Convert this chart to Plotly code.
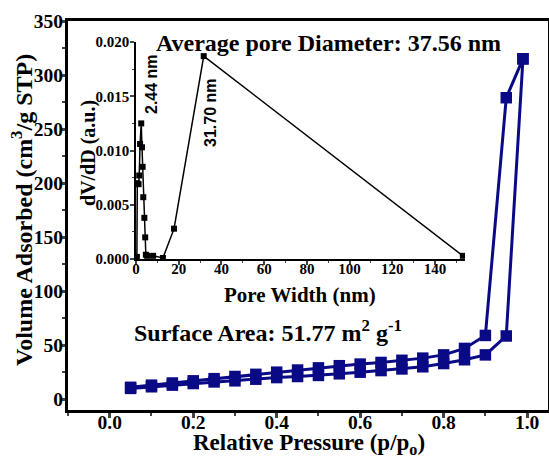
import plotly.graph_objects as go

# Main isotherm data
p_rel = [0.05, 0.10, 0.15, 0.20, 0.25, 0.30, 0.35, 0.40, 0.45, 0.50,
         0.55, 0.60, 0.65, 0.70, 0.75, 0.80, 0.85, 0.90, 0.95, 0.99]
adsorption = [10, 11.5, 13, 14.5, 16, 17, 18.5, 20, 21, 22,
              23.5, 25, 26.5, 28, 30, 33, 36.5, 41, 58.5, 315]
desorption = [11, 13, 15, 17, 19, 21, 23, 25, 27, 29,
              31, 32.5, 34, 36, 38, 41, 47, 59, 279, 315]

# Inset pore size distribution
pore_width = [0.4, 0.6, 1.2, 1.5, 1.9, 2.44, 2.8, 3.1, 3.4, 3.9, 4.3, 4.6, 5.2, 8.0, 12.6, 17.8, 31.7, 153.0]
dvdd = [0.0002, 0.0070, 0.0069, 0.0077, 0.0106, 0.0125, 0.0103, 0.0085, 0.0057, 0.0038,
        0.0020, 0.0004, 0.0003, 0.0003, 0.0001, 0.0028, 0.0187, 0.0003]

navy = "#0a0a86"
serif = "Liberation Serif"

fig = go.Figure()
fig.add_trace(go.Scatter(x=p_rel, y=adsorption, mode="lines+markers",
                         line=dict(color=navy, width=3),
                         marker=dict(symbol="square", size=11.5, color=navy),
                         showlegend=False))
fig.add_trace(go.Scatter(x=p_rel, y=desorption, mode="lines+markers",
                         line=dict(color=navy, width=3),
                         marker=dict(symbol="square", size=11.5, color=navy),
                         showlegend=False))
fig.add_trace(go.Scatter(x=pore_width, y=dvdd, mode="lines+markers",
                         xaxis="x2", yaxis="y2",
                         line=dict(color="black", width=1.5),
                         marker=dict(symbol="square", size=6, color="black"),
                         showlegend=False))

tickfont_main = dict(family=serif, size=19.5, color="black", weight="bold")
tickfont_in = dict(family=serif, size=15, color="black", weight="bold")

fig.update_layout(
    width=549, height=456,
    margin=dict(l=68, r=1, t=21, b=46, autoexpand=False),
    paper_bgcolor="white", plot_bgcolor="white",
    xaxis=dict(range=[-0.1, 1.05], tickvals=[0, 0.2, 0.4, 0.6, 0.8, 1.0],
               tickformat=".1f", ticks="outside", ticklen=5, tickwidth=2.5,
               ticklabelstandoff=-12,
               showline=True, linewidth=3, linecolor="black", mirror=True,
               showgrid=False, zeroline=False, tickfont=tickfont_main,
               minor=dict(dtick=0.1, ticks="outside", ticklen=3, tickwidth=2, tick0=0)),
    yaxis=dict(range=[-10, 350], tickvals=[0, 50, 100, 150, 200, 250, 300, 350],
               ticks="outside", ticklen=5, tickwidth=2.5,
               ticklabelstandoff=-7,
               showline=True, linewidth=3, linecolor="black", mirror=True,
               showgrid=False, zeroline=False, tickfont=tickfont_main,
               minor=dict(dtick=25, ticks="outside", ticklen=3, tickwidth=2, tick0=0)),
    xaxis2=dict(domain=[0.1417, 0.827], anchor="y2", range=[0, 154],
                tickvals=[0, 20, 40, 60, 80, 100, 120, 140],
                ticks="outside", ticklen=4, tickwidth=1.5,
                ticklabelstandoff=-9,
                showline=True, linewidth=1.5, linecolor="black",
                showgrid=False, zeroline=False, tickfont=tickfont_in,
                minor=dict(dtick=10, ticks="outside", ticklen=2.5, tickwidth=1)),
    yaxis2=dict(domain=[0.388, 0.946], anchor="x2", range=[0, 0.020],
                tickvals=[0, 0.005, 0.010, 0.015, 0.020], tickformat=".3f",
                ticks="outside", ticklen=4, tickwidth=1.5,
                ticklabelstandoff=-2,
                showline=True, linewidth=1.5, linecolor="black",
                showgrid=False, zeroline=False, tickfont=tickfont_in,
                minor=dict(dtick=0.0025, ticks="outside", ticklen=2.5, tickwidth=1)),
)


def px(xp):
    return (xp - 68) / 480


def py(yp):
    return (410 - yp) / 389


def note(text, x, y, font, angle=0):
    fig.add_annotation(text=text, xref="paper", yref="paper", x=px(x), y=py(y),
                       showarrow=False, font=font, textangle=angle,
                       xanchor="center", yanchor="middle")


title_font = dict(family=serif, size=23, color="black", weight="bold")
inset_title_font = dict(family=serif, size=21, color="black", weight="bold")
ann_font = dict(family=serif, size=24, color="black", weight="bold")
lab_font = dict(family="Liberation Sans", size=16, color="black", weight="bold")

note("Relative Pressure (p/p<sub>o</sub>)", 309, 444, title_font)
note("Volume Adsorbed (cm<sup>3</sup>/g STP)", 22, 210, dict(family=serif, size=24, color="black", weight="bold"), -90)
note("Pore Width (nm)", 300, 295, inset_title_font)
note("dV/dD (a.u.)", 88, 153, dict(family=serif, size=20, color="black", weight="bold"), -90)
note("Average pore Diameter: 37.56 nm", 328, 43, ann_font)
note("Surface Area: 51.77 m<sup>2</sup> g<sup>-1</sup>", 268, 331, ann_font)
note("2.44 nm", 151, 84, lab_font, -90)
note("31.70 nm", 210, 113, lab_font, -90)

fig.write_html("out.html")
